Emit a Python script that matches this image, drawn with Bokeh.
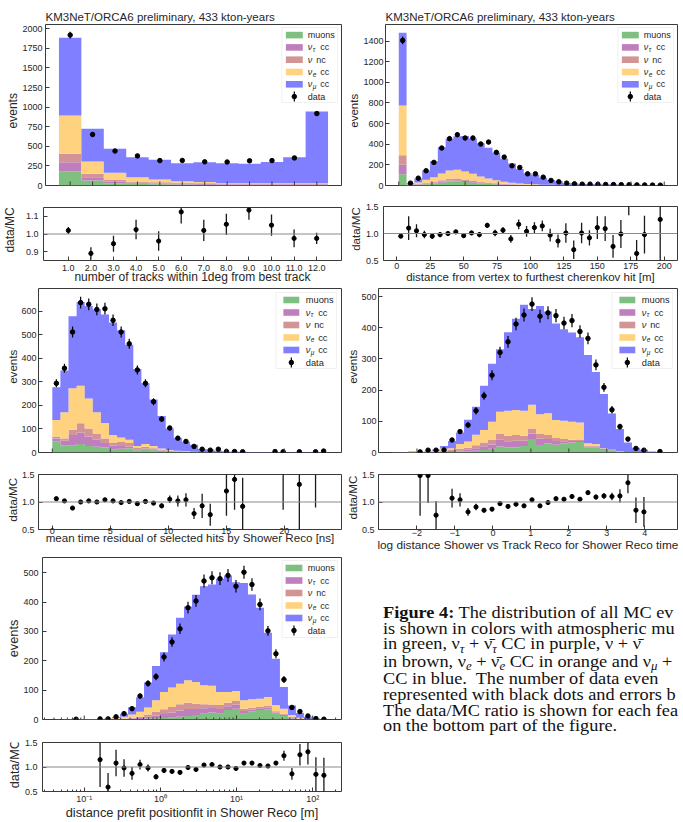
import numpy as np
from bokeh.plotting import figure
from bokeh.layouts import column, row
from bokeh.models import Range1d, FixedTicker, Span, Div, BoxAnnotation
from bokeh.embed import file_html
from bokeh.resources import INLINE
from bokeh.core.properties import value

NAN = float("nan")

# ---------------- panel 1: number of tracks within 1deg ----------------
P1_EDGES = [0.5, 1.5, 2.5, 3.5, 4.5, 5.5, 6.5, 7.5, 8.5, 9.5, 10.5, 11.5, 12.5]
P1_MU = [183, 64, 30, 21, 15, 12, 10, 6, 6, 6, 6, 6]
P1_TAU = [115, 42, 21, 13, 10, 10, 9, 6, 6, 6, 6, 6]
P1_NC = [106, 43, 21, 17, 15, 12, 10, 8, 7, 7, 7, 8]
P1_E = [490, 157, 90, 55, 37, 20, 16, 10, 9, 9, 9, 10]
P1_NUMU = [991, 417, 306, 256, 251, 231, 253, 255, 250, 272, 334, 915]
P1_DATA = [1920, 651, 440, 378, 318, 320, 302, 300, 315, 318, 352, 918]
P1_ERR = [44, 26, 21, 19, 18, 18, 17, 17, 18, 18, 19, 30]
P1_RATIO = [1.02, 0.89, 0.945, 1.025, 0.96, 1.125, 1.02, 1.055, 1.135, 1.05, 0.975, 0.975]
P1_RERR = [0.02, 0.035, 0.045, 0.055, 0.055, 0.065, 0.06, 0.06, 0.055, 0.06, 0.05, 0.032]
P1_XTICKS = [1, 2, 3, 4, 5, 6, 7, 8, 9, 10, 11, 12]
P1_XLABELS = ["1.0", "2.0", "3.0", "4.0", "5.0", "6.0", "7.0", "8.0", "9.0", "10.0", "11.0", "12.0"]
P1_YTICKS = [0, 250, 500, 750, 1000, 1250, 1500, 1750, 2000]
P1_RTICKS = [0.9, 1.0, 1.1]
P1_RLABELS = ["0.9", "1.0", "1.1"]

# ---------------- panel 2: distance vertex to furthest hit ----------------
P2_RANGE = (0, 200, 34)
P2_MU = [110, 2, 7, 13, 19, 27, 38, 40, 34, 27, 20, 15, 11, 8, 6, 5, 4, 3, 2, 2, 2, 1, 1, 1, 1, 1, 1, 0, 0, 0, 0, 0, 0, 0]
P2_TAU = [90, 1, 3, 5, 7, 9, 10, 10, 9, 8, 7, 6, 4, 3, 3, 2, 2, 1, 1, 1, 1, 1, 0, 0, 0, 0, 0, 0, 0, 0, 0, 0, 0, 0]
P2_NC = [92, 2, 5, 9, 12, 15, 17, 17, 15, 13, 11, 9, 7, 5, 4, 3, 2, 2, 1, 1, 1, 1, 1, 1, 0, 0, 0, 0, 0, 0, 0, 0, 0, 0]
P2_E = [482, 4, 14, 28, 42, 65, 80, 85, 78, 65, 50, 38, 28, 20, 14, 10, 7, 5, 4, 3, 2, 2, 1, 1, 1, 1, 1, 1, 0, 0, 0, 0, 0, 0]
P2_NUMU = [706, 12, 39, 91, 156, 254, 309, 326, 343, 342, 322, 298, 268, 223, 185, 140, 103, 93, 68, 47, 36, 19, 19, 11, 12, 9, 7, 10, 8, 4, 9, 5, 4, 2.5]
P2_DATA = [1406, 23, 71, 143, 224, 363, 454, 492, 460, 460, 402, 421, 321, 275, 191, 175, 113, 113, 81, 49, 36, 23, 16, 13, 13, 12, 10, 9, 8, 7, 6, 5, 4, 3]
P2_ERR = [37, 5, 8, 12, 15, 19, 21, 22, 21, 21, 20, 21, 18, 17, 14, 13, 11, 11, 9, 7, 6, 5, 4, 4, 4, 3, 3, 3, 3, 3, 2, 2, 2, 2]
P2_RATIO = [0.95, 1.1, 1.05, 0.98, 0.95, 0.98, 1.0, 1.03, 0.96, 1.01, 0.98, 1.15, 1.01, 1.06, 0.9, 1.17, 1.04, 1.11, 1.14, 0.97,
            0.86, 1.01, 0.7, 1.01, 0.92, 1.11, 1.09, 0.76, 0.99, 1.65, 0.63, 0.98, NAN, 1.26]
P2_RERR = [0.02, 0.22, 0.12, 0.07, 0.05, 0.05, 0.04, 0.04, 0.04, 0.04, 0.05, 0.05, 0.06, 0.06, 0.07, 0.09, 0.1, 0.1, 0.1, 0.12,
           0.12, 0.18, 0.17, 0.19, 0.14, 0.21, 0.23, 0.21, 0.26, 0.31, 0.25, 0.35, NAN, 0.8]
P2_XTICKS = [0, 25, 50, 75, 100, 125, 150, 175, 200]
P2_YTICKS = [0, 200, 400, 600, 800, 1000, 1200, 1400]

# ---------------- panel 3: mean time residual ----------------
P3_RANGE = (0, 23.75, 34)
P3_MU = [47, 31, 31, 36, 28, 24, 21, 14, 16, 18, 10, 12, 10, 7, 5, 4, 3, 2, 1, 1, 0, 0, 0, 0, 0, 0, 0, 0, 0, 0, 0, 0, 0, 0]
P3_TAU = [13, 19, 43, 49, 40, 30, 19, 16, 12, 8, 4, 5, 4, 3, 2, 1, 1, 1, 0, 0, 0, 0, 0, 0, 0, 0, 0, 0, 0, 0, 0, 0, 0, 0]
P3_NC = [8, 10, 23, 39, 34, 27, 20, 13, 17, 14, 7, 7, 4, 3, 2, 1, 1, 0, 0, 0, 0, 0, 0, 0, 0, 0, 0, 0, 0, 0, 0, 0, 0, 0]
P3_E = [70, 111, 176, 160, 128, 90, 65, 31, 19, 14, 7, 12, 10, 4, 2, 1, 1, 0, 0, 0, 0, 0, 0, 0, 0, 0, 0, 0, 0, 0, 0, 0, 0, 0]
P3_NUMU = [139, 177, 306, 356, 393, 437, 461, 478, 456, 404, 327, 258, 197, 138, 91, 55, 40, 30, 14, 12, 7, 3.3, 2.8, 3.3,
           2, 2, 2, 1.5, 1.5, 1, 1, 1, 1, 1]
P3_DATA = [294, 358, 512, 637, 630, 608, 611, 562, 512, 462, 351, 294, 216, 142, 104, 61, 47, 26, 14, 10, 14, 4, 4, 3,
           NAN, NAN, NAN, 4, 3, NAN, 3, NAN, 3, 6]
P3_ERR = [17, 19, 23, 25, 25, 25, 25, 24, 23, 21, 19, 17, 15, 12, 10, 8, 7, 5, 4, 3, 4, 2, 2, 2,
          NAN, NAN, NAN, 2, 2, NAN, 2, NAN, 2, 2.5]
P3_RATIO = [1.06, 1.02, 0.89, 1.0, 1.02, 1.0, 1.04, 1.02, 0.99, 1.01, 0.97, 1.01, 0.98, 0.93, 1.05, 1.02, 1.04, 0.79, 0.93, 0.77,
            NAN, 1.2, 1.41, 0.92, NAN, NAN, NAN, NAN, 1.7, NAN, 1.32, NAN, 1.7, NAN]
P3_RERR = [0.03, 0.03, 0.025, 0.02, 0.02, 0.02, 0.02, 0.02, 0.02, 0.025, 0.03, 0.03, 0.035, 0.045, 0.07, 0.1, 0.12, 0.1, 0.22, 0.2,
           NAN, 0.45, 0.55, 0.52, NAN, NAN, NAN, NAN, 0.84, NAN, 0.82, NAN, 0.8, NAN]
P3_XTICKS = [0, 5, 10, 15, 20]
P3_YTICKS = [0, 100, 200, 300, 400, 500, 600]

# ---------------- panel 4: log distance shower vs track ----------------
P4_RANGE = (-2.655, 4.505, 34)
P4_MU = [0, 0, 0, 0, 0, 1, 1, 2, 3, 4, 6, 8, 12, 19, 16, 16, 21, 43, 24, 29, 25, 29, 32, 34, 16, 17, 11, 7, 4, 2, 1, 0, 0, 0]
P4_TAU = [0, 0, 0, 0, 0, 1, 2, 3, 4, 5, 8, 12, 14, 22, 20, 22, 17, 18, 20, 14, 12, 7, 5, 3, 3, 2, 1, 0, 0, 0, 0, 0, 0, 0]
P4_NC = [0, 0, 0, 0, 1, 1, 2, 3, 5, 6, 9, 12, 14, 18, 18, 18, 16, 16, 17, 13, 11, 7, 4, 3, 3, 2, 1, 1, 0, 0, 0, 0, 0, 0]
P4_E = [0.5, 1, 1.5, 0.5, 1.5, 3, 8, 6, 15, 20, 34, 40, 59, 72, 80, 80, 80, 76, 62, 70, 56, 59, 58, 56, 8, 6, 1, 1, 1, 0, 0, 0, 0, 0]
P4_NUMU = [0.5, 1, 1.5, 0.8, 1.5, 4, 8, 23, 37, 70, 90, 142, 186, 200, 252, 293, 340, 307, 347, 326, 310, 293, 286, 274,
           283, 231, 174, 116, 70, 30, 14, 9, 3, 1]
P4_DATA = [NAN, NAN, NAN, 2, 7.5, 7.5, 8, 40, 67, 88, 134, 182, 248, 321, 355, 412, 441, 476, 437, 448, 439, 415, 423, 388,
           366, 281, 209, 137, 83, 43, 13, 7.5, NAN, 3]
P4_ERR = [NAN, NAN, NAN, 1.5, 3, 3, 3, 6, 8, 9, 12, 13, 16, 18, 19, 20, 21, 22, 21, 21, 21, 20, 21, 20,
          19, 17, 14, 12, 9, 7, 4, 3, NAN, 2]
P4_RATIO = [NAN, NAN, NAN, 1.48, 1.48, 0.76, 0.35, 1.07, 1.04, 0.82, 0.91, 0.85, 0.87, 0.97, 0.92, 0.96, 0.93, 1.04, 0.93, 0.99,
            1.06, 1.05, 1.1, 1.05, 1.17, 1.09, 1.11, 1.1, 1.11, 1.35, 0.85, 0.82, NAN, NAN]
P4_RERR = [NAN, NAN, NAN, 0.73, 0.5, 0.26, 0.12, 0.17, 0.12, 0.07, 0.06, 0.04, 0.04, 0.035, 0.03, 0.03, 0.03, 0.03, 0.03, 0.03,
           0.03, 0.03, 0.03, 0.03, 0.04, 0.045, 0.05, 0.07, 0.12, 0.19, 0.23, 0.27, NAN, NAN]
P4_XTICKS = [-2, -1, 0, 1, 2, 3, 4]
P4_XLABELS = ["\u22122", "\u22121", "0", "1", "2", "3", "4"]
P4_YTICKS = [0, 100, 200, 300, 400, 500]

# ---------------- panel 5: distance prefit positionfit (log) ----------------
P5_LOGRANGE = (-1.37, 2.2, 34)
P5_MU = [0, 0, 0, 0, 0, 0, 0, 0.5, 0.5, 1, 2, 3, 4, 5, 6, 9, 12, 15, 20, 24, 20, 32, 37, 20, 28, 32, 35, 20, 12, 3, 1, 0, 0, 0]
P5_TAU = [0, 0, 0, 0, 0, 0, 0.5, 1, 1, 2, 3, 6, 10, 14, 18, 22, 24, 21, 18, 15, 16, 13, 14, 9, 6, 6, 6, 4, 4, 3, 1, 0, 0, 0]
P5_NC = [0, 0, 0, 0, 0.5, 0.5, 0.5, 1, 2, 3, 4, 8, 12, 16, 19, 21, 21, 18, 14, 12, 13, 12, 12, 8, 6, 5, 5, 4, 4, 3, 1, 0, 0, 0]
P5_E = [0.3, 0.5, 0.5, 0.8, 1, 1, 1.5, 3, 6, 11, 17, 24, 40, 59, 66, 70, 77, 74, 65, 64, 45, 37, 34, 29, 29, 28, 31, 21, 17, 6, 3, 1, 0.5, 0]
P5_NUMU = [0.2, 0.5, 0.5, 0.7, 0.5, 0.5, 1, 3, 10.5, 25, 50, 85, 116, 135, 181, 225, 251, 297, 337, 345, 386, 397, 371, 399,
           357, 310, 219, 158, 74, 33, 16, 8, 3, 1.2]
P5_DATA = [NAN, NAN, 1, NAN, NAN, 2, 2, 9, 20, 37, 80, 123, 146, 213, 264, 309, 381, 404, 472, 483, 480, 491, 454, 502,
           460, 392, 302, 224, 136, 41, 27, 12, 3, 1]
P5_ERR = [NAN, NAN, 1, NAN, NAN, 1.5, 1.5, 3, 4.5, 6, 9, 11, 12, 15, 16, 18, 20, 20, 22, 22, 22, 22, 21, 22,
          21, 20, 17, 15, 12, 6, 5, 3.5, 2, 1]
P5_RATIO = [NAN, NAN, NAN, NAN, NAN, 1.15, 0.59, 1.08, 0.98, 0.87, 1.05, 0.98, 0.8, 0.93, 0.91, 0.89, 0.99, 0.95, 1.04, 1.05,
            1.0, 1.0, 0.97, 1.08, 1.08, 1.03, 1.02, 1.08, 1.23, 0.86, 1.25, 1.31, 0.85, 0.83]
P5_RERR = [NAN, NAN, NAN, NAN, NAN, 0.56, 0.29, 0.27, 0.18, 0.13, 0.1, 0.07, 0.05, 0.05, 0.04, 0.035, 0.03, 0.03, 0.03, 0.03,
           0.03, 0.03, 0.03, 0.03, 0.03, 0.03, 0.03, 0.04, 0.1, 0.12, 0.22, 0.26, 0.35, 0.36]
P5_XTICKS = [0.1, 1, 10, 100]
P5_XLABELS = ["10\u207b\u00b9", "10\u2070", "10\u00b9", "10\u00b2"]
P5_XMINOR = [0.03, 0.04, 0.05, 0.06, 0.07, 0.08, 0.09, 0.2, 0.3, 0.4, 0.5, 0.6, 0.7, 0.8, 0.9,
             2, 3, 4, 5, 6, 7, 8, 9, 20, 30, 40, 50, 60, 70, 80, 90, 200]
P5_YTICKS = [0, 100, 200, 300, 400, 500]

R_TICKS = [0.5, 1.0, 1.5]
R_LABELS = ["0.5", "1.0", "1.5"]

TITLE = "KM3NeT/ORCA6 preliminary, 433 kton-years"
LEG_LABELS = [("muons", "", ""), ("\u03bd", "\u03c4", "cc"), ("\u03bd", "", "nc"),
              ("\u03bd", "e", "cc"), ("\u03bd", "\u03bc", "cc"), ("data", "", "")]

SANS = "Liberation Sans"
COLORS = ["#7fbf7f", "#bf7fbf", "#d29494", "#ffd27f", "#7f7fff"]
FRAME = "#3a3a3a"
TXT = "#262626"
COL_L = 345
COL_R = 338


def lin_edges(r):
    return np.linspace(r[0], r[1], r[2] + 1)


def style_axis(ax, fs, lfs):
    ax.major_tick_in = 4
    ax.major_tick_out = 0
    ax.minor_tick_in = 2
    ax.minor_tick_out = 0
    ax.major_tick_line_color = FRAME
    ax.minor_tick_line_color = None
    ax.axis_line_color = None
    ax.major_label_text_font = SANS
    ax.major_label_text_font_size = fs
    ax.major_label_text_color = TXT
    ax.axis_label_text_font = SANS
    ax.axis_label_text_font_size = lfs
    ax.axis_label_text_font_style = "normal"
    ax.axis_label_text_color = TXT


def px2data(g, dx, dy):
    (x0, x1), (y0, y1), fw, fh, xlog = g
    if xlog:
        a, b = np.log10(x0), np.log10(x1)
        x = 10 ** (a + dx / fw * (b - a))
    else:
        x = x0 + dx / fw * (x1 - x0)
    y = y1 - dy / fh * (y1 - y0)
    return float(x), float(y)


def add_legend(m, g, fw, lg):
    bx = fw - lg["ri"] - lg["w"]
    by = lg["ti"]
    L, T = px2data(g, bx, by)
    R, B = px2data(g, bx + lg["w"], by + lg["h"])
    m.add_layout(BoxAnnotation(left=L, right=R, top=T, bottom=B, fill_color="white", fill_alpha=0.85,
                               line_color="#cccccc", line_width=1))
    fs = lg["fs"]
    for i in range(6):
        yc = by + lg["r0"] + i * lg["st"]
        if i < 5:
            l, t = px2data(g, bx + lg["sx"], yc - 3.3)
            r, b = px2data(g, bx + lg["sx"] + lg["sw"], yc + 3.3)
            q = m.quad(left=[l], right=[r], top=[t], bottom=[b], fill_color=COLORS[i], line_color=None)
            q.level = "overlay"
        else:
            xc, yy = px2data(g, bx + lg["sx"] + lg["sw"] / 2, yc)
            _, yt = px2data(g, 0, yc - 5)
            _, yb = px2data(g, 0, yc + 5)
            s = m.segment(x0=[xc], y0=[yb], x1=[xc], y1=[yt], line_color="black", line_width=1.2)
            s.level = "overlay"
            d = m.scatter(x=[xc], y=[yy], size=4.5, color="black")
            d.level = "overlay"
        main, sub, rest = LEG_LABELS[i]
        tx = bx + lg["tx"]
        x, y = px2data(g, tx, yc)
        style = "italic" if main == "\u03bd" else "normal"
        t1 = m.text(x=[x], y=[y], text=[main], text_font=value(SANS), text_font_size=fs, text_font_style=style,
                    text_baseline="middle", text_align="left", text_color=TXT)
        t1.level = "overlay"
        if sub:
            x, y = px2data(g, tx + 5.0, yc + 2.2)
            t2 = m.text(x=[x], y=[y], text=[sub], text_font=value(SANS), text_font_size="6.5px",
                        text_font_style="italic", text_baseline="middle", text_align="left", text_color=TXT)
            t2.level = "overlay"
        if rest:
            off = 12.5 if sub else 8.5
            x, y = px2data(g, tx + off, yc)
            t3 = m.text(x=[x], y=[y], text=[rest], text_font=value(SANS), text_font_size=fs,
                        text_baseline="middle", text_align="left", text_color=TXT)
            t3.level = "overlay"


def label_strip(width, height, x, y, txt, size):
    # narrow figure holding a rotated y-axis title beside a panel (coords in strip pixels)
    s = figure(width=width, height=height, x_range=Range1d(0, width), y_range=Range1d(height, 0),
               output_backend="svg", toolbar_location=None, min_border=0,
               x_axis_location=None, y_axis_location=None)
    s.outline_line_color = None
    s.grid.visible = False
    s.background_fill_color = "white"
    s.border_fill_color = "white"
    s.text(x=[x], y=[y], text=[txt], angle=np.pi / 2, text_font=value(SANS), text_font_size=size,
           text_align="center", text_baseline="middle", text_color=TXT)
    return s


def build(c, colw):
    xtype = "log" if c["xlog"] else "linear"
    fw = colw - c["frame_l"] - c["br"]
    fhm = c["mh"] - c["mbt"] - c["mbb"]
    fhr = c["rh"] - c["rbt"] - c["rbb"]
    gm = (c["xr"], c["myr"], fw, fhm, c["xlog"])
    base_kw = dict(x_axis_type=xtype, output_backend="svg", toolbar_location=None, min_border_right=c["br"])
    mkw = dict(base_kw)
    if c.get("title"):
        mkw["title"] = c["title"]
    sm, sr = c["sm"], c["sr"]
    m = figure(width=colw - sm, height=c["mh"], x_range=Range1d(*c["xr"]), y_range=Range1d(*c["myr"]),
               min_border_left=c["frame_l"] - sm, min_border_top=c["mbt"], min_border_bottom=c["mbb"],
               x_axis_location=None, **mkw)
    r = figure(width=colw - sr, height=c["rh"], x_range=Range1d(*c["xr"]), y_range=Range1d(*c["ryr"]),
               min_border_left=c["frame_l"] - sr, min_border_top=c["rbt"], min_border_bottom=c["rbb"], **base_kw)
    for p in (m, r):
        p.grid.visible = False
        p.outline_line_color = FRAME
        p.outline_line_width = 1
        p.background_fill_color = "white"
        p.border_fill_color = "white"
        style_axis(p.yaxis[0], c["tfs"], c["lfs"])
    style_axis(r.xaxis[0], c["tfs"], c["xlfs"])
    r.xaxis.ticker = FixedTicker(ticks=c["xticks"], minor_ticks=c.get("xminor", []))
    if c.get("xminor"):
        r.xaxis.minor_tick_line_color = FRAME
    if c.get("title"):
        m.title.align = "left"
        m.title.offset = 0
        m.title.standoff = 4
        m.title.text_font = SANS
        m.title.text_font_size = "11.5px"
        m.title.text_font_style = "normal"
        m.title.text_color = TXT

    edges = np.asarray(c["edges"], float)
    if c["xlog"]:
        centers = np.sqrt(edges[:-1] * edges[1:])
    else:
        centers = 0.5 * (edges[:-1] + edges[1:])

    # stacked MC
    base = np.zeros(len(edges) - 1)
    for comp, col in zip(c["comps"], COLORS):
        top = base + np.asarray(comp, float)
        m.varea_step(x=edges, y1=np.append(base, base[-1]), y2=np.append(top, top[-1]),
                     step_mode="after", fill_color=col, fill_alpha=1.0)
        base = top
    data = np.asarray(c["data"], float)
    err = np.asarray(c["err"], float)
    m.segment(x0=centers, y0=data - err, x1=centers, y1=data + err, line_color="black", line_width=1.2)
    m.scatter(x=centers, y=data, size=4.5, color="black")

    # inward x ticks on the main panel (no labels there)
    y0 = c["myr"][0]
    _, ytk = px2data(gm, 0, fhm - 4)
    xt = list(c["xticks"])
    m.segment(x0=xt, y0=[y0] * len(xt), x1=xt, y1=[ytk] * len(xt), line_color=FRAME, line_width=1)
    if c.get("xminor"):
        _, ytm = px2data(gm, 0, fhm - 2)
        xm = list(c["xminor"])
        m.segment(x0=xm, y0=[y0] * len(xm), x1=xm, y1=[ytm] * len(xm), line_color=FRAME, line_width=1)

    m.yaxis.ticker = FixedTicker(ticks=c["myticks"])
    m.yaxis.major_label_standoff = c["my_std"]
    add_legend(m, gm, fw, c["leg"])

    # ratio
    r.add_layout(Span(location=1.0, dimension="width", line_color="#8a8a8a", line_width=1))
    rat = np.asarray(c["ratio"], float)
    rer = np.asarray(c["rerr"], float)
    r.segment(x0=centers, y0=rat - rer, x1=centers, y1=rat + rer, line_color="#1a1a1a", line_width=1.3)
    r.scatter(x=centers, y=rat, size=4.2, color="black")
    r.yaxis.ticker = FixedTicker(ticks=c["rticks"])
    r.yaxis.major_label_overrides = dict(zip(c["rticks"], c["rlabels"]))
    r.yaxis.major_label_standoff = c["ry_std"]
    if c.get("xlabels"):
        r.xaxis.major_label_overrides = dict(zip(c["xticks"], c["xlabels"]))
    r.xaxis.major_label_standoff = c["rx"][0]
    r.xaxis.axis_label = c["xlabel"]
    r.xaxis.axis_label_standoff = c["rx"][1]

    s_m = label_strip(sm, c["mh"], c["lm"], c["mbt"] + fhm / 2, "events", c["lfs"])
    s_r = label_strip(sr, c["rh"], c["lr"], c["rbt"] + fhr / 2, "data/MC", c["lfs"])
    return row(s_m, m, spacing=0), row(s_r, r, spacing=0)


LEG_A = dict(ri=4, ti=3, w=56, h=75, r0=7.6, st=12.3, sx=4, sw=17, tx=26, fs="9px")
LEG_B = dict(ri=5, ti=4, w=61, h=76, r0=7.5, st=12.5, sx=7.5, sw=16, tx=30, fs="9.3px")
LEG_C = dict(ri=4, ti=3, w=56, h=77, r0=7.5, st=12.5, sx=3.5, sw=17, tx=26, fs="9px")

cfg1 = dict(frame_l=43, br=4, mh=195, rh=91, mbt=24, mbb=10, rbt=12, rbb=26,
            sm=19, lm=12.3, sr=19, lr=9.5,
            xr=(-0.1, 13.1), xlog=False, myr=(0, 2055), ryr=(0.85, 1.15),
            edges=P1_EDGES, comps=[P1_MU, P1_TAU, P1_NC, P1_E, P1_NUMU],
            data=P1_DATA, err=P1_ERR, ratio=P1_RATIO, rerr=P1_RERR,
            xticks=P1_XTICKS, xlabels=P1_XLABELS, myticks=P1_YTICKS, rticks=P1_RTICKS, rlabels=P1_RLABELS,
            title=TITLE, xlabel="number of tracks within 1deg from best track",
            tfs="9px", lfs="12px", xlfs="12px", my_std=3, ry_std=5, rx=(4, -4), leg=LEG_A)

cfg2 = dict(frame_l=38, br=6, mh=195, rh=91, mbt=24, mbb=10, rbt=11, rbb=26,
            sm=15, lm=8.6, sr=17, lr=10.0,
            xr=(-10, 210), xlog=False, myr=(0, 1560), ryr=(0.5, 1.5),
            edges=lin_edges(P2_RANGE), comps=[P2_MU, P2_TAU, P2_NC, P2_E, P2_NUMU],
            data=P2_DATA, err=P2_ERR, ratio=P2_RATIO, rerr=P2_RERR,
            xticks=P2_XTICKS, myticks=P2_YTICKS, rticks=R_TICKS, rlabels=R_LABELS,
            title=TITLE, xlabel="distance from vertex to furthest cherenkov hit [m]",
            tfs="9px", lfs="11.5px", xlfs="11.5px", my_std=2, ry_std=5, rx=(2, -1), leg=LEG_A)

cfg3 = dict(frame_l=36, br=4, mh=176, rh=86, mbt=2, mbb=10, rbt=12, rbb=19,
            sm=18, lm=11.5, sr=18, lr=11.5,
            xr=(-1.19, 24.94), xlog=False, myr=(0, 697), ryr=(0.5, 1.5),
            edges=lin_edges(P3_RANGE), comps=[P3_MU, P3_TAU, P3_NC, P3_E, P3_NUMU],
            data=P3_DATA, err=P3_ERR, ratio=P3_RATIO, rerr=P3_RERR,
            xticks=P3_XTICKS, myticks=P3_YTICKS, rticks=R_TICKS, rlabels=R_LABELS,
            xlabel="mean time residual of selected hits by Shower Reco [ns]",
            tfs="9px", lfs="11.6px", xlfs="11.6px", my_std=2, ry_std=4, rx=(-2, -6), leg=LEG_B)

cfg4 = dict(frame_l=31, br=6, mh=176, rh=94, mbt=2, mbb=10, rbt=12, rbb=27,
            sm=13, lm=6.5, sr=13, lr=6.5,
            xr=(-3.013, 4.863), xlog=False, myr=(0, 526), ryr=(0.5, 1.5),
            edges=lin_edges(P4_RANGE), comps=[P4_MU, P4_TAU, P4_NC, P4_E, P4_NUMU],
            data=P4_DATA, err=P4_ERR, ratio=P4_RATIO, rerr=P4_RERR,
            xticks=P4_XTICKS, xlabels=P4_XLABELS, myticks=P4_YTICKS, rticks=R_TICKS, rlabels=R_LABELS,
            xlabel="log distance Shower vs Track Reco for Shower Reco time",
            tfs="9px", lfs="11.6px", xlfs="11.8px", my_std=2, ry_std=4, rx=(0, -1), leg=LEG_B)

cfg5 = dict(frame_l=39, br=4, mh=180, rh=94, mbt=9, mbb=9, rbt=14, rbb=25,
            sm=20, lm=12.8, sr=21, lr=13.8,
            xr=(10 ** -1.5485, 10 ** 2.3785), xlog=True, myr=(0, 552), ryr=(0.5, 1.5),
            edges=10 ** np.linspace(P5_LOGRANGE[0], P5_LOGRANGE[1], P5_LOGRANGE[2] + 1),
            comps=[P5_MU, P5_TAU, P5_NC, P5_E, P5_NUMU],
            data=P5_DATA, err=P5_ERR, ratio=P5_RATIO, rerr=P5_RERR,
            xticks=P5_XTICKS, xlabels=P5_XLABELS, xminor=P5_XMINOR, myticks=P5_YTICKS, rticks=R_TICKS, rlabels=R_LABELS,
            xlabel="distance prefit positionfit in Shower Reco [m]",
            tfs="9px", lfs="12.8px", xlfs="12.8px", my_std=4, ry_std=5, rx=(2, -2), leg=LEG_C)

m1, r1 = build(cfg1, COL_L)
m2, r2 = build(cfg2, COL_R)
m3, r3 = build(cfg3, COL_L)
m4, r4 = build(cfg4, COL_R)
m5, r5 = build(cfg5, COL_L)

# caption text; subscripts are small shifted spans, nu written inline
NU = "\u03bd"
NUB = "\u03bd\u0304"


def SUB(s):
    return '<span style="font-size:70%;position:relative;top:0.3em;font-style:italic;">' + s + "</span>"


CAPTION_LINES = [
    "<b>Figure 4:</b> The distribution of all MC ev",
    "is shown in colors with atmospheric mu",
    "in green, " + NU + SUB("\u03c4") + " + " + NUB + SUB("\u03c4") + " CC in purple, " + NU + " + " + NUB,
    "in brown, " + NU + SUB("e") + " + " + NUB + SUB("e") + " CC in orange and " + NU + SUB("\u03bc") + " +",
    "CC in blue.&nbsp; The number of data even",
    "represented with black dots and errors b",
    "The data/MC ratio is shown for each fea",
    "on the bottom part of the figure.",
]
PAD_L = 383 - COL_L
caption_html = ('<div style="font-family:\'Liberation Serif\',serif;font-size:16.8px;line-height:15.6px;'
                'color:#111;white-space:nowrap;padding:49px 0 0 ' + str(PAD_L) + 'px;transform:scaleX(1.09);'
                'transform-origin:' + str(PAD_L) + 'px 0;">' + "<br>".join(CAPTION_LINES) + "</div>")
caption = Div(text=caption_html, width=COL_R, height=266, margin=(0, 0, 0, 0), styles={"overflow": "hidden"})

left = column(m1, r1, m3, r3, m5, r5, spacing=0)
right = column(m2, r2, m4, r4, caption, spacing=0)
layout = row(left, right, spacing=0)

open("out.html", "w").write(file_html(layout, INLINE))
